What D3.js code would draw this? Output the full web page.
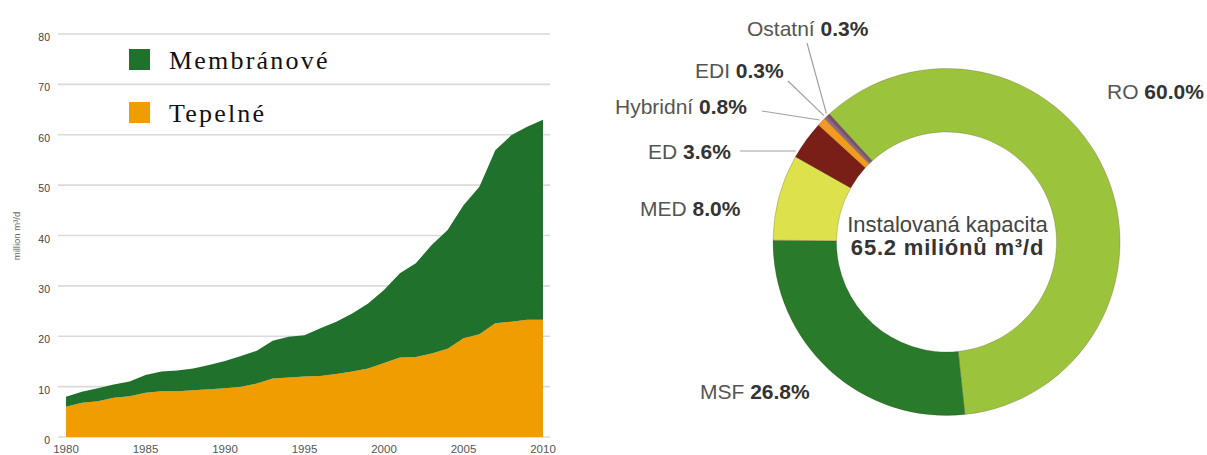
<!DOCTYPE html>
<html>
<head>
<meta charset="utf-8">
<script src="https://cdn.jsdelivr.net/npm/d3@7/dist/d3.min.js"></script>
<style>
  body { margin: 0; background: #fff; }
  svg { display: block; }
  text { font-family: "Liberation Sans", Arial, sans-serif; }
  text.serif { font-family: "Liberation Serif", "DejaVu Serif", serif; }
</style>
</head>
<body>
<svg id="chart" width="1207" height="455"></svg>
<script>
// left: installed capacity by technology (million m3/d)
const years = d3.range(1980, 2011);
const thermal = [6.0, 6.8, 7.1, 7.8, 8.1, 8.8, 9.1, 9.1, 9.3, 9.5, 9.7, 10.0, 10.6, 11.6, 11.8,
  12.0, 12.1, 12.5, 13.0, 13.6, 14.7, 15.8, 15.9, 16.6, 17.5, 19.6, 20.4, 22.6, 22.9, 23.3, 23.3];
const membrane = [2.0, 2.2, 2.6, 2.6, 2.9, 3.5, 3.9, 4.1, 4.3, 4.8, 5.4, 6.1, 6.5, 7.5, 8.1,
  8.2, 9.5, 10.4, 11.5, 12.9, 14.5, 16.7, 18.6, 21.5, 23.6, 26.4, 29.3, 34.3, 37.0, 38.3, 39.7];
const yTicks = [0, 10, 20, 30, 40, 50, 60, 70, 80];
const xTicks = [1980, 1985, 1990, 1995, 2000, 2005, 2010];
const seriesNames = ["Tepelné", "Membránové"];
const seriesColors = ["#ef9d00", "#20712b"];

// right: share of installed capacity
const techs = ["RO", "MSF", "MED", "ED", "Hybridní", "EDI", "Ostatní"];
const shares = [60.0, 26.8, 8.0, 3.6, 0.8, 0.3, 0.3];
const techColors = ["#9cc33c", "#2a7a2b", "#dce14c", "#7a1f18", "#f29b1c", "#8d6a7e", "#7b4e6c"];

const svg = d3.select("#chart");

// ---------- stacked area ----------
const x = d3.scaleLinear().domain([1980, 2010]).range([66, 543]);
const y = d3.scaleLinear().domain([0, 80]).range([437, 34]);

const rows = years.map((yr, i) => ({year: yr, "Tepelné": thermal[i], "Membránové": membrane[i]}));
const stacked = d3.stack().keys(seriesNames)(rows);

svg.append("g")
  .selectAll("line")
  .data(yTicks)
  .join("line")
  .attr("x1", 58).attr("x2", 550)
  .attr("y1", d => y(d)).attr("y2", d => y(d))
  .attr("stroke", "#dadada")
  .attr("stroke-width", 1.6);

const area = d3.area()
  .x(d => x(d.data.year))
  .y0(d => y(d[0]))
  .y1(d => y(d[1]));

svg.append("g")
  .selectAll("path")
  .data(stacked)
  .join("path")
  .attr("d", area)
  .attr("fill", (d, i) => seriesColors[i]);

svg.append("g")
  .selectAll("text")
  .data(yTicks)
  .join("text")
  .attr("x", 50)
  .attr("y", d => y(d) + 7)
  .attr("text-anchor", "end")
  .attr("font-size", 10.5)
  .attr("fill", "#444")
  .text(d => d);

svg.append("g")
  .selectAll("text")
  .data(xTicks)
  .join("text")
  .attr("x", d => x(d))
  .attr("y", 453)
  .attr("text-anchor", "middle")
  .attr("font-size", 11.5)
  .attr("fill", "#555")
  .text(d => d);

svg.append("text")
  .attr("transform", "translate(20,236) rotate(-90)")
  .attr("text-anchor", "middle")
  .attr("font-size", 9.5)
  .attr("fill", "#666")
  .text("million m³/d");

// legend (membrane on top)
const legendItems = [1, 0];
const legend = svg.append("g")
  .selectAll("g")
  .data(legendItems)
  .join("g")
  .attr("transform", (d, i) => "translate(129," + (49 + i * 53) + ")");
legend.append("rect")
  .attr("width", 21).attr("height", 21)
  .attr("fill", d => seriesColors[d]);
legend.append("text")
  .attr("class", "serif")
  .attr("x", 40).attr("y", 20)
  .attr("font-size", 26)
  .attr("letter-spacing", 2.2)
  .attr("fill", "#111")
  .text(d => seriesNames[d]);

// ---------- donut ----------
const cx = 946.5, cy = 242;
const rIn = 110, rOut = 173.5;
const start = -42.5 * Math.PI / 180;

const pie = d3.pie().sort(null).startAngle(start).endAngle(start + 2 * Math.PI);
const arcs = pie(shares);
const arc = d3.arc().innerRadius(rIn).outerRadius(rOut);

const donut = svg.append("g").attr("transform", "translate(" + cx + "," + cy + ")");
donut.selectAll("path")
  .data(arcs)
  .join("path")
  .attr("d", arc)
  .attr("fill", (d, i) => techColors[i])
  .attr("stroke", "rgba(60,40,30,0.35)")
  .attr("stroke-width", 0.6);

// label layout: text start / baseline, and optional leader start
const labelPos = [
  {x: 1107, y: 99},
  {x: 700, y: 399},
  {x: 640, y: 216},
  {x: 648, y: 159, lx: 740, ly: 151, flat: true},
  {x: 615, y: 114, lx: 762, ly: 111},
  {x: 695, y: 78, lx: 788, ly: 81},
  {x: 747, y: 36, lx: 807, ly: 43}
];

const leaderR = rOut + 2.5;
labelPos.forEach((p, i) => {
  if (p.lx === undefined) return;
  let ex, ey;
  if (p.flat) {
    ey = p.ly;
    ex = cx - Math.sqrt(leaderR * leaderR - (p.ly - cy) * (p.ly - cy));
  } else {
    const a = (arcs[i].startAngle + arcs[i].endAngle) / 2;
    ex = cx + leaderR * Math.sin(a);
    ey = cy - leaderR * Math.cos(a);
  }
  svg.append("line")
    .attr("x1", p.lx).attr("y1", p.ly)
    .attr("x2", ex).attr("y2", ey)
    .attr("stroke", "#a0a0a0")
    .attr("stroke-width", 1.2);
});

const labels = svg.append("g")
  .selectAll("text")
  .data(techs)
  .join("text")
  .attr("x", (d, i) => labelPos[i].x)
  .attr("y", (d, i) => labelPos[i].y)
  .attr("font-size", 21);
labels.append("tspan")
  .attr("fill", "#555")
  .text(d => d + " ");
labels.append("tspan")
  .attr("fill", "#333")
  .attr("font-weight", "bold")
  .text((d, i) => shares[i].toFixed(1) + "%");

svg.append("text")
  .attr("x", cx + 1).attr("y", 232)
  .attr("text-anchor", "middle")
  .attr("font-size", 22)
  .attr("fill", "#444")
  .text("Instalovaná kapacita");
svg.append("text")
  .attr("x", cx + 1).attr("y", 255)
  .attr("text-anchor", "middle")
  .attr("font-size", 22)
  .attr("font-weight", "bold")
  .attr("fill", "#333")
  .attr("letter-spacing", 0.8)
  .text("65.2 miliónů  m³/d");
</script>
</body>
</html>
